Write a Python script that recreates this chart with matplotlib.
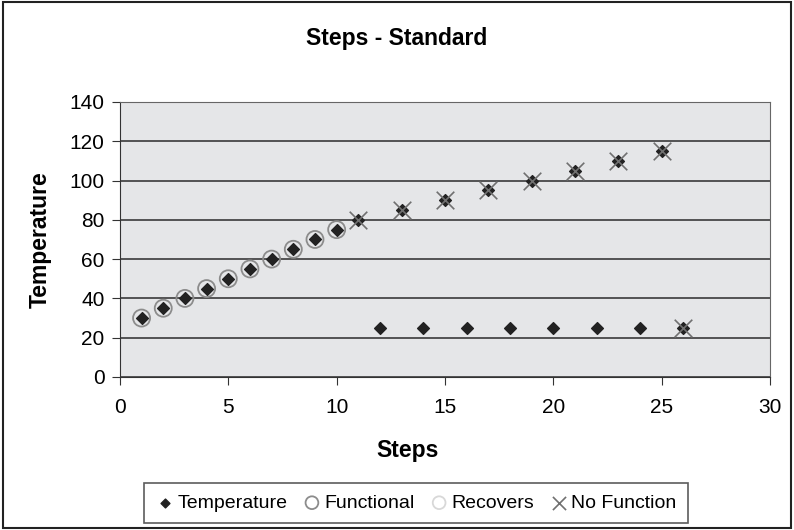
import matplotlib.pyplot as plt
from matplotlib.patches import Rectangle

plt.rcParams['font.family'] = ['Liberation Sans', 'DejaVu Sans']

# temperature readings per step
temp_steps = [1, 2, 3, 4, 5, 6, 7, 8, 9, 10, 11, 13, 15, 17, 19, 21, 23, 25,
              12, 14, 16, 18, 20, 22, 24, 26]
temp_vals = [30, 35, 40, 45, 50, 55, 60, 65, 70, 75, 80, 85, 90, 95, 100, 105, 110, 115,
             25, 25, 25, 25, 25, 25, 25, 25]

functional_steps = [1, 2, 3, 4, 5, 6, 7, 8, 9, 10]
functional_vals = [30, 35, 40, 45, 50, 55, 60, 65, 70, 75]

recovers_steps = []
recovers_vals = []

nofunc_steps = [11, 13, 15, 17, 19, 21, 23, 25, 26]
nofunc_vals = [80, 85, 90, 95, 100, 105, 110, 115, 25]

fig = plt.figure(figsize=(7.94, 5.30), dpi=100)
fig.patches.append(Rectangle((0.004, 0.004), 0.992, 0.992, transform=fig.transFigure,
                             fill=False, edgecolor='#222222', lw=1.5))
ax = fig.add_axes([0.151, 0.2887, 0.819, 0.519])
ax.set_facecolor('#e5e6e8')

ax.set_xlim(0, 30)
ax.set_ylim(0, 140)
ax.set_xticks(range(0, 31, 5))
ax.set_yticks(range(0, 141, 20))
ax.yaxis.grid(True, color='#3a3a3a', lw=1.2)
ax.set_axisbelow(True)
for s in ['top', 'right']:
    ax.spines[s].set_color('#666666')
for s in ['left', 'bottom']:
    ax.spines[s].set_color('#333333')
ax.tick_params(direction='out', length=6, labelsize=15, color='#333333', pad=5)
ax.tick_params(axis='x', pad=9)

ax.scatter(functional_steps, functional_vals, s=150, facecolors='none',
           edgecolors='#8c8c8c', linewidths=1.3, label='Functional', zorder=3)
ax.scatter(recovers_steps, recovers_vals, s=150, facecolors='none',
           edgecolors='#d8d8d8', linewidths=1.3, label='Recovers', zorder=3)
ax.scatter(temp_steps, temp_vals, s=36, marker='D', color='#222222',
           label='Temperature', zorder=4)
ax.scatter(nofunc_steps, nofunc_vals, s=160, marker='x', color='#707070',
           linewidths=1.2, label='No Function', zorder=5)

fig.text(0.5, 1 - 38 / 530, 'Steps - Standard', fontsize=16.5, fontweight='bold',
         ha='center', va='center')
fig.text(408 / 794, 1 - 450 / 530, 'Steps', fontsize=16.5, fontweight='bold',
         ha='center', va='center')
fig.text(40 / 794, 0.548, 'Temperature', fontsize=16.5, fontweight='bold',
         ha='center', va='center', rotation=90)

h, l = ax.get_legend_handles_labels()
order = [2, 0, 1, 3]
leg = fig.legend([h[i] for i in order], [l[i] for i in order], loc='center',
                 bbox_to_anchor=(416 / 794, 1 - 503 / 530), ncol=4, fontsize=14,
                 frameon=True, fancybox=False, edgecolor='#333333', handletextpad=0.15,
                 columnspacing=0.75, handlelength=1.0, borderpad=0.6, markerscale=0.75)
leg.get_frame().set_linewidth(1.2)

fig.savefig('out.png', dpi=100)
